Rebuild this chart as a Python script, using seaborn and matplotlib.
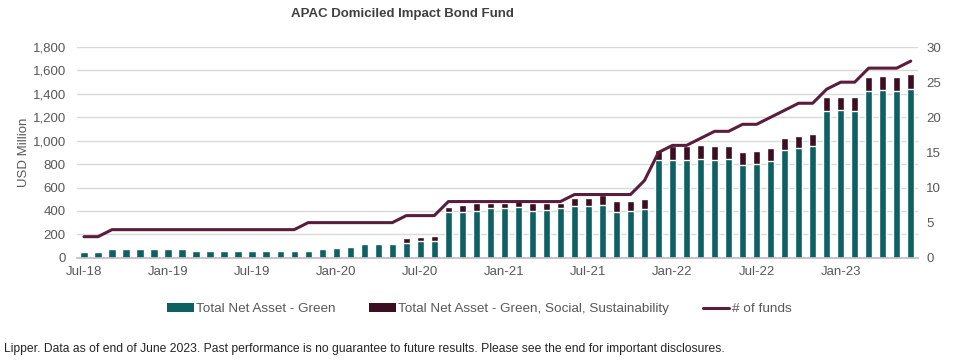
import numpy as np
import pandas as pd
import matplotlib
matplotlib.use("Agg")
import matplotlib.pyplot as plt
import seaborn as sns
from matplotlib.patches import Patch
from matplotlib.lines import Line2D

# Data (monthly, Jul-18 .. Jun-23)

months = pd.date_range("2018-07-01", periods=60, freq="MS").strftime("%b-%y").tolist()

green = [51, 51, 74, 74, 74, 74, 74, 74, 57, 57,
         57, 57, 57, 57, 57, 57, 57, 75, 84, 92,
         117, 117, 117, 126, 146, 145, 394, 394, 403, 429,
         429, 437, 403, 411, 423, 446, 446, 452, 394, 400,
         417, 831, 831, 831, 840, 831, 840, 789, 797, 823,
         917, 934, 951, 1251, 1260, 1251, 1426, 1431, 1426, 1440]

gss = [0, 0, 0, 0, 0, 0, 0, 0, 0, 0,
       0, 0, 0, 0, 0, 0, 0, 0, 0, 0,
       0, 0, 0, 42, 31, 42, 40, 60, 63, 37,
       37, 57, 63, 55, 43, 68, 68, 84, 92, 86,
       86, 92, 126, 126, 126, 126, 117, 117, 117, 117,
       109, 109, 109, 120, 117, 120, 117, 126, 122, 126]

funds = [3, 3, 4, 4, 4, 4, 4, 4, 4, 4,
         4, 4, 4, 4, 4, 4, 5, 5, 5, 5,
         5, 5, 5, 6, 6, 6, 8, 8, 8, 8,
         8, 8, 8, 8, 8, 9, 9, 9, 9, 9,
         11, 15, 16, 16, 17, 18, 18, 19, 19, 20,
         21, 22, 22, 24, 25, 25, 27, 27, 27, 28]

TEAL = "#0E6163"
MAROON = "#3B0E21"
LINE = "#5A1D3B"
GREY_TXT = "#595959"
GRID = "#D9D9D9"


def main():
    sns.set_theme(style="white")
    plt.rcParams["font.family"] = ["Liberation Sans", "DejaVu Sans"]

    df = pd.DataFrame({"month": months, "green": green, "gss": gss, "funds": funds})
    df["total"] = df["green"] + df["gss"]

    fig = plt.figure(figsize=(9.62, 3.62), dpi=100)
    ax = fig.add_axes([0.080, 0.288, 0.874, 0.582])

    # stacked bars: total underneath, green on top of it
    sns.barplot(data=df, x="month", y="total", color=MAROON, width=0.52,
                saturation=1, ax=ax, order=months)
    sns.barplot(data=df, x="month", y="green", color=TEAL, width=0.52,
                saturation=1, ax=ax, order=months)

    ax.set_xlim(-0.5, len(months) - 0.5)
    ax.set_ylim(0, 1800)
    ax.set_yticks(np.arange(0, 1801, 200))
    ax.set_yticklabels([f"{v:,}" for v in range(0, 1801, 200)])
    ax.yaxis.grid(True, color=GRID, linewidth=1)
    ax.set_axisbelow(True)

    # labels every 6 months, small tick marks at the boundaries
    ax.set_xticks(range(0, 60, 6))
    ax.set_xticklabels(months[::6])
    ax.set_xticks(np.arange(-0.5, 60, 6), minor=True)
    ax.tick_params(axis="x", which="major", length=0, pad=6,
                   labelsize=9.5, labelcolor=GREY_TXT)
    ax.tick_params(axis="x", which="minor", length=4, color="#BFBFBF", width=1)
    ax.tick_params(axis="y", length=0, labelsize=9.5, labelcolor=GREY_TXT, pad=8)
    ax.set_xlabel("")
    ax.set_ylabel("USD Million", fontsize=9.5, color=GREY_TXT, labelpad=2)

    for s in ["top", "right", "left"]:
        ax.spines[s].set_visible(False)
    ax.spines["bottom"].set_color("#BFBFBF")

    # number of funds on the right axis
    ax2 = ax.twinx()
    sns.lineplot(x=np.arange(len(funds)), y=funds, color=LINE, linewidth=2.2, ax=ax2)
    ax2.set_ylim(0, 30)
    ax2.set_yticks(range(0, 31, 5))
    ax2.tick_params(axis="y", length=0, labelsize=9.5, labelcolor=GREY_TXT, pad=6)
    for s in ["top", "right", "left", "bottom"]:
        ax2.spines[s].set_visible(False)
    ax2.set_ylabel("")

    fig.text(0.418, 0.962, "APAC Domiciled Impact Bond Fund", ha="center", va="center",
             fontsize=9.5, fontweight="bold", color="#404040")

    handles = [
        Patch(facecolor=TEAL, edgecolor="none"),
        Patch(facecolor=MAROON, edgecolor="none"),
        Line2D([0], [0], color=LINE, linewidth=2.2),
    ]
    labels = ["Total Net Asset - Green",
              "Total Net Asset - Green, Social, Sustainability",
              "# of funds"]
    leg = fig.legend(handles, labels, loc="center", bbox_to_anchor=(0.498, 0.146),
                     ncol=3, frameon=False, fontsize=9.7, handlelength=2.0,
                     handleheight=0.6, handletextpad=0.15, columnspacing=2.5)
    for t in leg.get_texts():
        t.set_color(GREY_TXT)

    fig.text(0.004, 0.035,
             "Lipper. Data as of end of June 2023. Past performance is no guarantee to future results. "
             "Please see the end for important disclosures.",
             ha="left", va="center", fontsize=8.7, color="#262626")

    fig.savefig("out.png", dpi=100)


if __name__ == "__main__":
    main()
